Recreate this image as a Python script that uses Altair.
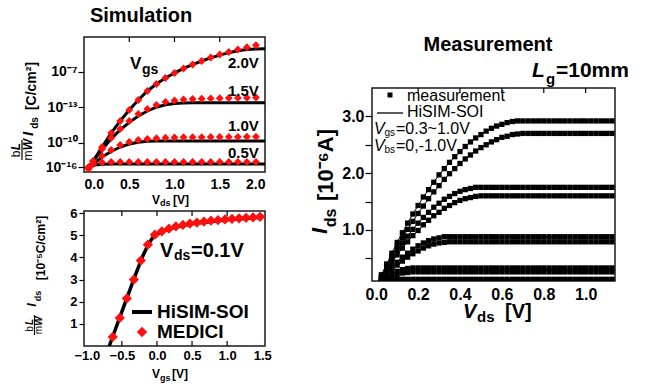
import altair as alt
import pandas as pd

FONT = "Liberation Sans"

# ---------------- Simulation (top-left): normalized Ids vs Vds ----------------
sim_vds = [0.05, 0.1, 0.2, 0.3, 0.4, 0.5, 0.6, 0.7, 0.8, 0.9, 1.0,
           1.1, 1.2, 1.3, 1.4, 1.5, 1.6, 1.7, 1.8, 1.9]
medici_20 = [0.37, 0.81, 1.85, 2.89, 3.78, 4.59, 5.33, 6.00, 6.52, 6.96,
             7.33, 7.67, 7.96, 8.22, 8.48, 8.70, 8.89, 9.07, 9.24, 9.39]
medici_15 = [0.30, 0.81, 1.70, 2.52, 3.19, 3.78, 4.30, 4.67, 4.96, 5.19,
             5.30, 5.37, 5.41, 5.43, 5.45, 5.46, 5.48, 5.49, 5.50, 5.52]
medici_10 = [0.22, 0.59, 1.19, 1.63, 2.00, 2.22, 2.37, 2.44, 2.50, 2.54,
             2.56, 2.57, 2.58, 2.58, 2.59, 2.59, 2.60, 2.60, 2.61, 2.61]
medici_05 = [0.30, 0.59, 0.70, 0.74, 0.74, 0.74, 0.74, 0.74, 0.74, 0.74,
             0.74, 0.74, 0.74, 0.75, 0.75, 0.75, 0.75, 0.75, 0.75, 0.75]

line_vds = [0.05, 0.1, 0.2, 0.3, 0.4, 0.5, 0.6, 0.7, 0.8, 0.9, 1.0,
            1.1, 1.2, 1.3, 1.4, 1.5, 1.6, 1.7, 1.8, 1.9, 2.0]
hisim_20 = [0.37, 0.81, 1.85, 2.89, 3.78, 4.59, 5.33, 6.00, 6.52, 6.96, 7.33,
            7.67, 7.96, 8.22, 8.45, 8.66, 8.84, 8.98, 9.07, 9.12, 9.13]
hisim_15 = [0.30, 0.78, 1.66, 2.46, 3.12, 3.68, 4.15, 4.52, 4.80, 4.98, 5.07,
            5.11, 5.13, 5.13, 5.13, 5.13, 5.13, 5.13, 5.13, 5.13, 5.13]
hisim_10 = [0.22, 0.57, 1.12, 1.52, 1.85, 2.07, 2.20, 2.27, 2.30, 2.30, 2.30,
            2.30, 2.30, 2.30, 2.30, 2.30, 2.30, 2.30, 2.30, 2.30, 2.30]
hisim_05 = [0.28, 0.50, 0.57, 0.59, 0.59, 0.59, 0.59, 0.59, 0.59, 0.59, 0.59,
            0.59, 0.59, 0.59, 0.59, 0.59, 0.59, 0.59, 0.59, 0.59, 0.59]
vgs_labels = ["2.0V", "1.5V", "1.0V", "0.5V"]

tl_xticks = [0.0, 0.5, 1.0, 1.5, 2.0]
tl_inner_ticks = [0.5, 1.0, 1.5]
tl_ytick_vals = [0.37, 2.15, 4.81, 7.41]
tl_ytick_labels = ["10⁻¹⁶", "10⁻¹⁰", "10⁻¹³", "10⁻⁷"]

# ---------------- Simulation (bottom-left): vs Vgs ----------------
medici_vgs = [-0.63, -0.53, -0.43, -0.33, -0.23, -0.13, -0.03, 0.07, 0.17, 0.27, 0.37,
              0.47, 0.57, 0.67, 0.77, 0.87, 0.97, 1.07, 1.17, 1.27, 1.37, 1.47]
medici_q = [0.41, 1.27, 2.15, 3.00, 3.86, 4.58, 5.03, 5.18, 5.30, 5.40, 5.47,
            5.53, 5.58, 5.62, 5.66, 5.69, 5.72, 5.74, 5.77, 5.79, 5.81, 5.84]
hisim_vgs = [-0.68, -0.6, -0.5, -0.4, -0.3, -0.2, -0.12, -0.05, 0.05, 0.2, 0.5, 1.0, 1.5]
hisim_q = [0.0, 0.69, 1.55, 2.41, 3.27, 4.08, 4.62, 4.95, 5.13, 5.32, 5.52, 5.70, 5.82]
bl_xticks = [-1.0, -0.5, 0.0, 0.5, 1.0, 1.5]
bl_inner_ticks = [-0.5, 0.0, 0.5, 1.0]
bl_yticks = [1, 2, 3, 4, 5, 6]

# ---------------- Measurement (right) ----------------
meas_vds = [0.0, 0.025, 0.05, 0.075, 0.1, 0.125, 0.15, 0.175, 0.2, 0.225,
            0.25, 0.275, 0.3, 0.325, 0.35, 0.375, 0.4, 0.425, 0.45, 0.475,
            0.5, 0.525, 0.55, 0.575, 0.6, 0.625, 0.65, 0.675, 0.7, 0.725,
            0.75, 0.775, 0.8, 0.825, 0.85, 0.875, 0.9, 0.925, 0.95, 0.975,
            1.0, 1.025, 1.05, 1.075, 1.1, 1.125]
ids_a = [0.00, 0.21, 0.40, 0.59, 0.78, 0.95, 1.12, 1.28, 1.43, 1.58,
         1.71, 1.84, 1.97, 2.08, 2.19, 2.29, 2.38, 2.47, 2.55, 2.62,
         2.68, 2.74, 2.79, 2.83, 2.86, 2.89, 2.91, 2.92, 2.92, 2.92,
         2.92, 2.92, 2.92, 2.92, 2.92, 2.92, 2.92, 2.92, 2.92, 2.92,
         2.92, 2.92, 2.92, 2.92, 2.92, 2.92]
ids_b = [0.00, 0.18, 0.36, 0.53, 0.70, 0.86, 1.01, 1.15, 1.29, 1.42,
         1.55, 1.67, 1.78, 1.89, 1.99, 2.08, 2.17, 2.25, 2.32, 2.39,
         2.45, 2.50, 2.55, 2.59, 2.63, 2.65, 2.68, 2.69, 2.70, 2.70,
         2.70, 2.70, 2.70, 2.70, 2.70, 2.70, 2.70, 2.70, 2.70, 2.70,
         2.70, 2.70, 2.70, 2.70, 2.70, 2.70]
ids_c = [0.00, 0.17, 0.33, 0.49, 0.63, 0.77, 0.89, 1.01, 1.12, 1.22,
         1.31, 1.40, 1.47, 1.54, 1.59, 1.64, 1.68, 1.71, 1.73, 1.75,
         1.75, 1.75, 1.75, 1.75, 1.75, 1.75, 1.75, 1.75, 1.75, 1.75,
         1.75, 1.75, 1.75, 1.75, 1.75, 1.75, 1.75, 1.75, 1.75, 1.75,
         1.75, 1.75, 1.75, 1.75, 1.75, 1.75]
ids_d = [0.00, 0.15, 0.29, 0.43, 0.56, 0.68, 0.79, 0.90, 0.99, 1.09,
         1.17, 1.25, 1.31, 1.38, 1.43, 1.48, 1.52, 1.55, 1.57, 1.59,
         1.60, 1.60, 1.60, 1.60, 1.60, 1.60, 1.60, 1.60, 1.60, 1.60,
         1.60, 1.60, 1.60, 1.60, 1.60, 1.60, 1.60, 1.60, 1.60, 1.60,
         1.60, 1.60, 1.60, 1.60, 1.60, 1.60]
ids_e = [0.00, 0.12, 0.23, 0.34, 0.43, 0.52, 0.59, 0.66, 0.72, 0.77,
         0.81, 0.84, 0.86, 0.88, 0.88, 0.88, 0.88, 0.88, 0.88, 0.88,
         0.88, 0.88, 0.88, 0.88, 0.88, 0.88, 0.88, 0.88, 0.88, 0.88,
         0.88, 0.88, 0.88, 0.88, 0.88, 0.88, 0.88, 0.88, 0.88, 0.88,
         0.88, 0.88, 0.88, 0.88, 0.88, 0.88]
ids_f = [0.00, 0.11, 0.20, 0.30, 0.38, 0.45, 0.52, 0.58, 0.63, 0.68,
         0.72, 0.75, 0.77, 0.78, 0.79, 0.79, 0.79, 0.79, 0.79, 0.79,
         0.79, 0.79, 0.79, 0.79, 0.79, 0.79, 0.79, 0.79, 0.79, 0.79,
         0.79, 0.79, 0.79, 0.79, 0.79, 0.79, 0.79, 0.79, 0.79, 0.79,
         0.79, 0.79, 0.79, 0.79, 0.79, 0.79]
ids_g = [0.00, 0.09, 0.16, 0.22, 0.27, 0.30, 0.32, 0.33, 0.33, 0.33,
         0.33, 0.33, 0.33, 0.33, 0.33, 0.33, 0.33, 0.33, 0.33, 0.33,
         0.33, 0.33, 0.33, 0.33, 0.33, 0.33, 0.33, 0.33, 0.33, 0.33,
         0.33, 0.33, 0.33, 0.33, 0.33, 0.33, 0.33, 0.33, 0.33, 0.33,
         0.33, 0.33, 0.33, 0.33, 0.33, 0.33]
ids_h = [0.00, 0.07, 0.12, 0.17, 0.21, 0.24, 0.25, 0.26, 0.26, 0.26,
         0.26, 0.26, 0.26, 0.26, 0.26, 0.26, 0.26, 0.26, 0.26, 0.26,
         0.26, 0.26, 0.26, 0.26, 0.26, 0.26, 0.26, 0.26, 0.26, 0.26,
         0.26, 0.26, 0.26, 0.26, 0.26, 0.26, 0.26, 0.26, 0.26, 0.26,
         0.26, 0.26, 0.26, 0.26, 0.26, 0.26]
ids_i = [0.00, 0.09, 0.13, 0.13, 0.13, 0.13, 0.13, 0.13, 0.13, 0.13,
         0.13, 0.13, 0.13, 0.13, 0.13, 0.13, 0.13, 0.13, 0.13, 0.13,
         0.13, 0.13, 0.13, 0.13, 0.13, 0.13, 0.13, 0.13, 0.13, 0.13,
         0.13, 0.13, 0.13, 0.13, 0.13, 0.13, 0.13, 0.13, 0.13, 0.13,
         0.13, 0.13, 0.13, 0.13, 0.13, 0.13]
ids_j = [0.00, 0.07, 0.11, 0.11, 0.11, 0.11, 0.11, 0.11, 0.11, 0.11,
         0.11, 0.11, 0.11, 0.11, 0.11, 0.11, 0.11, 0.11, 0.11, 0.11,
         0.11, 0.11, 0.11, 0.11, 0.11, 0.11, 0.11, 0.11, 0.11, 0.11,
         0.11, 0.11, 0.11, 0.11, 0.11, 0.11, 0.11, 0.11, 0.11, 0.11,
         0.11, 0.11, 0.11, 0.11, 0.11, 0.11]
meas_curves = {"a": ids_a, "b": ids_b, "c": ids_c, "d": ids_d, "e": ids_e,
               "f": ids_f, "g": ids_g, "h": ids_h, "i": ids_i, "j": ids_j}
rp_xticks = [0.0, 0.2, 0.4, 0.6, 0.8, 1.0]
rp_inner_ticks = [0.2, 0.4, 0.6, 0.8, 1.0]
rp_yticks = [0.5, 1.0, 1.5, 2.0, 2.5, 3.0]

# ---------------- tables ----------------
tl_pts_df = pd.concat([pd.DataFrame({"vds": sim_vds, "q": v, "vgs": l})
                       for v, l in zip([medici_20, medici_15, medici_10, medici_05], vgs_labels)])
tl_line_df = pd.concat([pd.DataFrame({"vds": line_vds, "q": v, "vgs": l})
                        for v, l in zip([hisim_20, hisim_15, hisim_10, hisim_05], vgs_labels)])
bl_pts_df = pd.DataFrame({"vgs": medici_vgs, "q": medici_q})
bl_line_df = pd.DataFrame({"vgs": hisim_vgs, "q": hisim_q})
rp_df = pd.concat([pd.DataFrame({"vds": meas_vds, "ids": v, "curve": k})
                   for k, v in meas_curves.items()])


def label_expr(vals, labels):
    expr = "''"
    for v, l in zip(vals, labels):
        expr = f"datum.value == {v} ? '{l}' : ({expr})"
    return expr


ONE = alt.Data(values=[{}])


def txt(text, x, y, size, weight="bold", style="normal", angle=0, align="left"):
    return alt.Chart(ONE).mark_text(
        text=text, font=FONT, fontSize=size, fontWeight=weight, fontStyle=style,
        angle=angle, align=align, baseline="middle", color="black"
    ).encode(x=alt.value(x), y=alt.value(y))


def hrule(x1, x2, y, w):
    return alt.Chart(ONE).mark_rule(color="black", strokeWidth=w).encode(
        x=alt.value(x1), x2=alt.value(x2), y=alt.value(y))


def vrule(x, y1, y2, w):
    return alt.Chart(ONE).mark_rule(color="black", strokeWidth=w).encode(
        x=alt.value(x), y=alt.value(y1), y2=alt.value(y2))


def inner_ticks(vals, field, scale, axis, h, top=True, bottom=False):
    df = pd.DataFrame({field: vals})
    out = []
    if top:
        out.append(alt.Chart(df).mark_rule(color="black", strokeWidth=1.2).encode(
            x=alt.X(f"{field}:Q", scale=scale, axis=axis), y=alt.value(0), y2=alt.value(5)))
    if bottom:
        out.append(alt.Chart(df).mark_rule(color="black", strokeWidth=1.2).encode(
            x=alt.X(f"{field}:Q", scale=scale, axis=axis), y=alt.value(h - 5), y2=alt.value(h)))
    return out


# ---------------- top-left chart ----------------
W_TL, H_TL = 181, 135
xs_tl = alt.Scale(domain=[0, 2.0], nice=False, zero=False)
ys_tl = alt.Scale(domain=[0, 10], nice=False, zero=False)
xa_tl = alt.Axis(values=tl_xticks, format=".1f", ticks=False, labelPadding=5,
                 labelFontSize=14, title=None)
ya_tl = alt.Axis(values=tl_ytick_vals, labelExpr=label_expr(tl_ytick_vals, tl_ytick_labels),
                 tickSize=6, labelPadding=1, labelFontSize=14, title=None)

tl_lines = alt.Chart(tl_line_df).mark_line(color="black", strokeWidth=3, clip=True).encode(
    x=alt.X("vds:Q", scale=xs_tl, axis=xa_tl),
    y=alt.Y("q:Q", scale=ys_tl, axis=ya_tl),
    detail="vgs:N")
tl_pts = alt.Chart(tl_pts_df).mark_point(shape="diamond", filled=True, color="#ff1010",
                                         size=62, opacity=1, clip=True).encode(
    x=alt.X("vds:Q", scale=xs_tl, axis=xa_tl),
    y=alt.Y("q:Q", scale=ys_tl, axis=ya_tl))

tl_layers = [tl_lines, tl_pts] + inner_ticks(tl_inner_ticks, "vds", xs_tl, xa_tl, H_TL)
tl_layers += [
    txt("Simulation", 57, -21, 20, align="center"),
    txt("V", 46, 27, 17), txt("gs", 58, 33, 14),
    txt(vgs_labels[0], 144, 26, 15), txt(vgs_labels[1], 144, 54, 15),
    txt(vgs_labels[2], 144, 89, 15), txt(vgs_labels[3], 144, 116, 15),
    txt("V", 68, 163, 12), txt("ds", 76, 166, 9), txt("[V]", 89, 163, 12),
    # rotated y title: bL/mW I_ds [C/cm2]
    txt("[C/cm²]", -52, 49, 14, angle=270, align="center"),
    txt("ds", -49, 86, 10, angle=270, align="center"),
    txt("I", -56, 97, 15, style="italic", angle=270, align="center"),
    txt("b", -68, 117, 12, weight="normal", angle=270, align="center"),
    txt("L", -68, 109.5, 12, style="italic", angle=270, align="center"),
    vrule(-62, 103, 123, 1.2),
    txt("m", -56, 118.5, 12, weight="normal", angle=270, align="center"),
    txt("W", -56, 107.5, 12, style="italic", angle=270, align="center"),
]
tl = alt.layer(*tl_layers).properties(width=W_TL, height=H_TL)

# ---------------- bottom-left chart ----------------
W_BL, H_BL = 181, 135
xs_bl = alt.Scale(domain=[-1.04, 1.54], nice=False, zero=False)
ys_bl = alt.Scale(domain=[0, 6.1], nice=False, zero=False)
xa_bl = alt.Axis(values=bl_xticks, format=".1f", ticks=False, labelPadding=3,
                 labelFontSize=13, title=None)
ya_bl = alt.Axis(values=bl_yticks, format="d", tickSize=5, labelPadding=2,
                 labelFontSize=13, title=None)

bl_line = alt.Chart(bl_line_df).mark_line(color="black", strokeWidth=3.5, clip=True).encode(
    x=alt.X("vgs:Q", scale=xs_bl, axis=xa_bl),
    y=alt.Y("q:Q", scale=ys_bl, axis=ya_bl))
bl_pts = alt.Chart(bl_pts_df).mark_point(shape="diamond", filled=True, color="#ff1010",
                                         size=105, opacity=1, clip=False).encode(
    x=alt.X("vgs:Q", scale=xs_bl, axis=xa_bl),
    y=alt.Y("q:Q", scale=ys_bl, axis=ya_bl))

bl_layers = [bl_line, bl_pts] + inner_ticks(bl_inner_ticks, "vgs", xs_bl, xa_bl, H_BL,
                                            top=True, bottom=True)
bl_layers += [
    txt("V", 76, 40, 20), txt("ds", 90, 45, 14), txt("=0.1V", 107, 40, 20),
    hrule(48, 68, 101, 4), txt("HiSIM-SOI", 73, 101, 19),
    alt.Chart(ONE).mark_point(shape="diamond", filled=True, color="#ff1010", size=110,
                              opacity=1).encode(x=alt.value(58), y=alt.value(121)),
    txt("MEDICI", 73, 121, 19),
    txt("V", 68, 163, 12), txt("gs", 76, 167, 9), txt("[V]", 88, 163, 12),
    txt("[10⁻⁵C/cm²]", -43, 37, 12, angle=270, align="center"),
    txt("ds", -46, 85, 9, angle=270, align="center"),
    txt("I", -52, 94, 13, style="italic", angle=270, align="center"),
    txt("b", -54, 118, 10, weight="normal", angle=270, align="center"),
    txt("L", -54, 111, 10, style="italic", angle=270, align="center"),
    vrule(-49.5, 104, 124, 1.1),
    txt("m", -45, 119, 10, weight="normal", angle=270, align="center"),
    txt("W", -45, 110, 10, style="italic", angle=270, align="center"),
]
bl = alt.layer(*bl_layers).properties(width=W_BL, height=H_BL)

# ---------------- right chart ----------------
W_RP, H_RP = 243, 193
xs_rp = alt.Scale(domain=[-0.02, 1.14], nice=False, zero=False)
ys_rp = alt.Scale(domain=[0.1, 3.5], nice=False, zero=False)
xa_rp = alt.Axis(values=rp_xticks, format=".1f", ticks=False, labelPadding=5,
                 labelFontSize=16, title=None)
ya_rp = alt.Axis(values=rp_yticks,
                 labelExpr="datum.value % 1 == 0 ? format(datum.value, '.1f') : ''",
                 tickSize=7, labelPadding=1, labelFontSize=16, title=None)

rp_line = alt.Chart(rp_df).mark_line(color="black", strokeWidth=1, clip=True).encode(
    x=alt.X("vds:Q", scale=xs_rp, axis=xa_rp),
    y=alt.Y("ids:Q", scale=ys_rp, axis=ya_rp),
    detail="curve:N")
rp_pts = alt.Chart(rp_df).mark_square(color="black", size=28, opacity=1, clip=True).encode(
    x=alt.X("vds:Q", scale=xs_rp, axis=xa_rp),
    y=alt.Y("ids:Q", scale=ys_rp, axis=ya_rp))

rp_layers = [rp_line, rp_pts] + inner_ticks(rp_inner_ticks, "vds", xs_rp, xa_rp, H_RP)
rp_layers += [
    alt.Chart(ONE).mark_square(color="black", size=25, opacity=1).encode(
        x=alt.value(18), y=alt.value(7)),
    txt("measurement", 35, 8, 16, weight="normal"),
    hrule(5, 31, 25, 1.3),
    txt("HiSIM-SOI", 35, 24, 16, weight="normal"),
    txt("V", 2, 41, 16, weight="normal", style="italic"),
    txt("gs", 12.5, 45, 10, weight="normal"),
    txt("=0.3~1.0V", 24, 41, 16, weight="normal"),
    txt("V", 2, 58, 16, weight="normal", style="italic"),
    txt("bs", 12.5, 62, 10, weight="normal"),
    txt("=0,-1.0V", 24, 58, 16, weight="normal"),
    txt("V", 91, 224, 20, style="italic"), txt("ds", 105, 229, 15), txt("[V]", 133, 224, 20),
    txt("I", -52, 143, 22, style="italic", angle=270, align="center"),
    txt("ds", -41, 130, 16, angle=270, align="center"),
    txt("[10⁻⁶A]", -46, 77, 22, angle=270, align="center"),
]
rp = alt.layer(*rp_layers).properties(width=W_RP, height=H_RP)

spacer = alt.layer(
    txt("Measurement", 116, 8, 20, align="center"),
    txt("L", 160, 34, 21, style="italic"), txt("g", 174, 42, 15), txt("=10mm", 184, 34, 21),
).properties(width=W_RP, height=51, view=alt.ViewBackground(stroke="transparent"))

left = alt.vconcat(tl, bl, spacing=39, bounds="flush")
right = alt.vconcat(spacer, rp, spacing=0, bounds="flush")

# nested concat groups count as zero width under flush bounds, so the
# spacing is the full offset from the left column origin to the right one
chart = alt.hconcat(left, right, spacing=288, bounds="flush").properties(
    padding={"left": 9, "top": 5, "right": 5, "bottom": 5},
    background="white",
).configure_view(
    stroke="#1a1a1a", strokeWidth=1.5
).configure_axis(
    labelFont=FONT, labelFontWeight="bold", labelColor="black", tickColor="black",
    tickWidth=1.2, domain=False, grid=False
)

chart.save("out.html", embed_options={"renderer": "svg", "actions": False})
